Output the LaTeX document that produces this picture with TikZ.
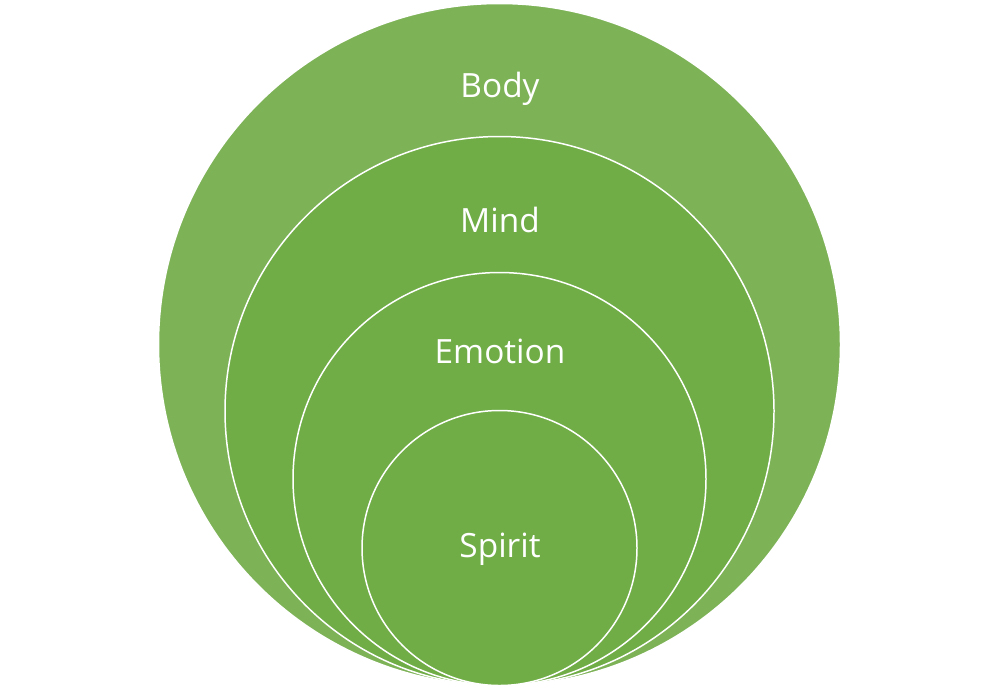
\documentclass[tikz,border=0pt]{standalone}
\usepackage{fontspec}
\setmainfont{Open Sans}
\definecolor{Gout}{RGB}{125, 178, 87}
\definecolor{Gin}{RGB}{112, 173, 71}
\tikzset{
  ring/.style={fill=#1, draw=white, line width=0.85pt},
  lbl/.style={text=white, font=\fontsize{19}{21}\selectfont, anchor=base, inner sep=0pt}
}

\begin{document}
\begin{tikzpicture}[x=0.2mm, y=-0.2mm]
  \useasboundingbox (0,0) rectangle (1000,686);
  % nested circles, all touching at the bottom
  \draw[ring=Gout] (499.5,344.5) circle (341);
  \draw[ring=Gin] (499.5,411) circle (274.5);
  \draw[ring=Gin] (499.5,479) circle (206.5);
  \draw[ring=Gin] (499.5,548) circle (137.5);
  % labels
  \node[lbl] (body) at (500,97) {Body};
  \node[lbl] (mind) at (500,232) {Mind};
  \node[lbl] (emotion) at (500,363) {Emotion};
  \node[lbl] (spirit) at (500,557) {Spirit};
\end{tikzpicture}
\end{document}
